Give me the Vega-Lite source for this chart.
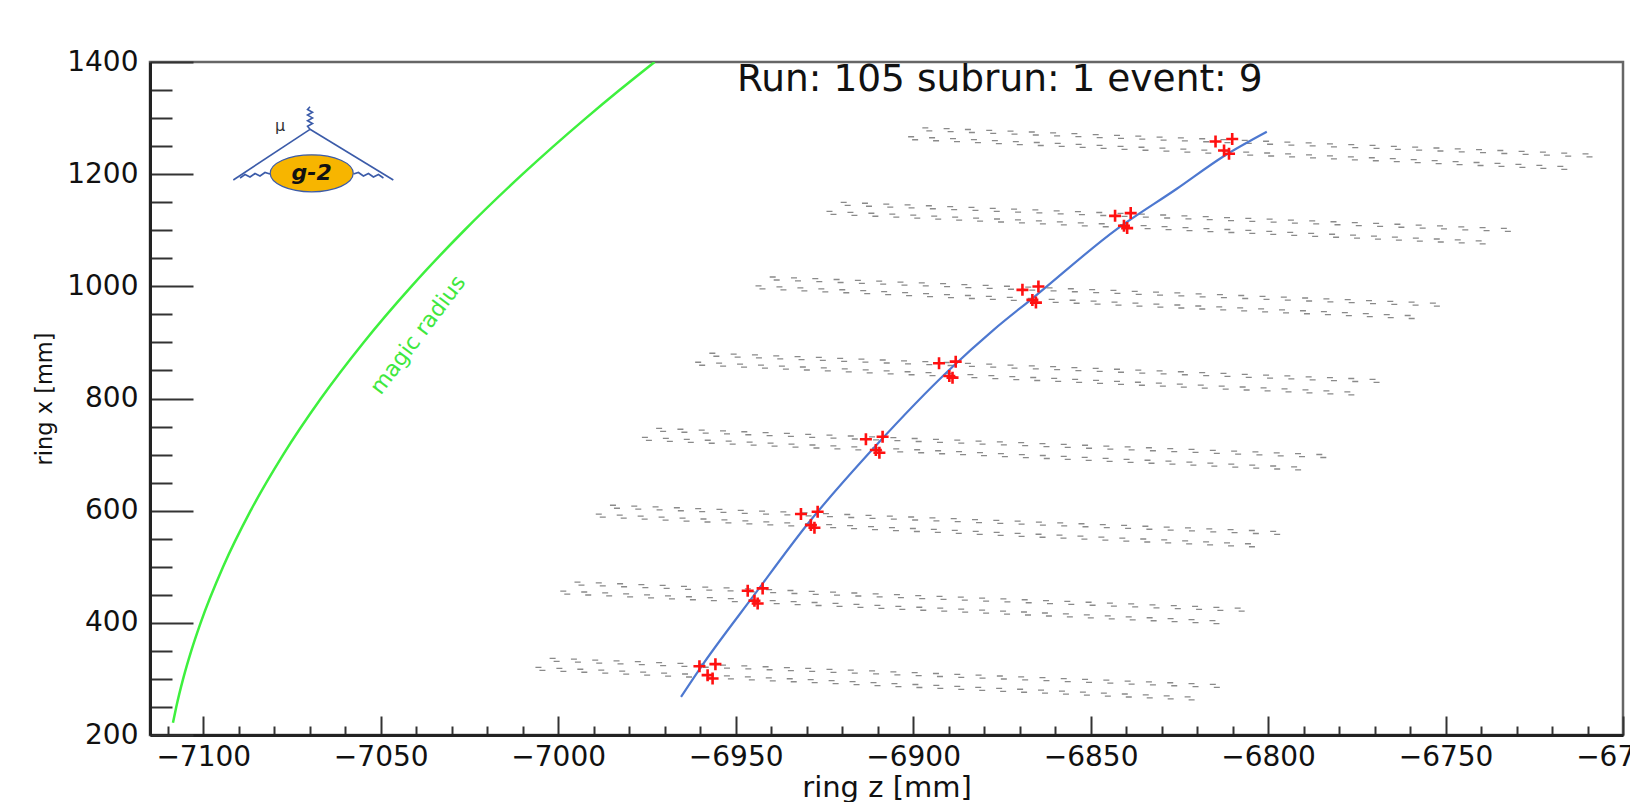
{
"$schema":"https://vega.github.io/schema/vega-lite/v6.json",
"width":1473,"height":673,
"autosize":{"type":"none"},
"padding":{"left":150,"top":62,"right":7,"bottom":67},
"background":"white",
"config":{"view":{"stroke":"#666666","strokeWidth":2.5},"font":"DejaVu Sans"},
"datasets":{
"straws":[
{"s":1,"r":"A","z":[-7001,-6995,-6989,-6983,-6977,-6971,-6965,-6959,-6953,-6947,-6941,-6935,-6929,-6923,-6917,-6911,-6905,-6899,-6893,-6887,-6881,-6875,-6869,-6863,-6857,-6851,-6845,-6839,-6833,-6827,-6821,-6815],"x":[334,332.5,331,329.5,328,326.5,325,323.5,322,320.5,319,317.5,316,314.5,313,311.5,310,308.5,307,305.5,304,302.5,301,299.5,298,296.5,295,293.5,292,290.5,289,287.5]},
{"s":1,"r":"B","z":[-7005,-6999.1,-6993.2,-6987.3,-6981.4,-6975.5,-6969.6,-6963.7,-6957.8,-6951.9,-6946,-6940.1,-6934.2,-6928.3,-6922.4,-6916.5,-6910.6,-6904.7,-6898.8,-6892.9,-6887,-6881.1,-6875.2,-6869.3,-6863.4,-6857.5,-6851.6,-6845.7,-6839.8,-6833.9,-6828,-6822.1],"x":[318,316.3,314.6,312.9,311.2,309.5,307.8,306.1,304.4,302.7,301,299.3,297.6,295.9,294.2,292.5,290.8,289.1,287.4,285.7,284,282.3,280.6,278.9,277.2,275.5,273.8,272.1,270.4,268.7,267,265.3]},
{"s":2,"r":"A","z":[-6994,-6988,-6982,-6976,-6970,-6964,-6958,-6952,-6946,-6940,-6934,-6928,-6922,-6916,-6910,-6904,-6898,-6892,-6886,-6880,-6874,-6868,-6862,-6856,-6850,-6844,-6838,-6832,-6826,-6820,-6814,-6808],"x":[470,468.5,467,465.5,464,462.5,461,459.5,458,456.5,455,453.5,452,450.5,449,447.5,446,444.5,443,441.5,440,438.5,437,435.5,434,432.5,431,429.5,428,426.5,425,423.5]},
{"s":2,"r":"B","z":[-6998,-6992.1,-6986.2,-6980.3,-6974.4,-6968.5,-6962.6,-6956.7,-6950.8,-6944.9,-6939,-6933.1,-6927.2,-6921.3,-6915.4,-6909.5,-6903.6,-6897.7,-6891.8,-6885.9,-6880,-6874.1,-6868.2,-6862.3,-6856.4,-6850.5,-6844.6,-6838.7,-6832.8,-6826.9,-6821,-6815.1],"x":[454,452.3,450.6,448.9,447.2,445.5,443.8,442.1,440.4,438.7,437,435.3,433.6,431.9,430.2,428.5,426.8,425.1,423.4,421.7,420,418.3,416.6,414.9,413.2,411.5,409.8,408.1,406.4,404.7,403,401.3]},
{"s":3,"r":"A","z":[-6984,-6978,-6972,-6966,-6960,-6954,-6948,-6942,-6936,-6930,-6924,-6918,-6912,-6906,-6900,-6894,-6888,-6882,-6876,-6870,-6864,-6858,-6852,-6846,-6840,-6834,-6828,-6822,-6816,-6810,-6804,-6798],"x":[607,605.5,604,602.5,601,599.5,598,596.5,595,593.5,592,590.5,589,587.5,586,584.5,583,581.5,580,578.5,577,575.5,574,572.5,571,569.5,568,566.5,565,563.5,562,560.5]},
{"s":3,"r":"B","z":[-6988,-6982.1,-6976.2,-6970.3,-6964.4,-6958.5,-6952.6,-6946.7,-6940.8,-6934.9,-6929,-6923.1,-6917.2,-6911.3,-6905.4,-6899.5,-6893.6,-6887.7,-6881.8,-6875.9,-6870,-6864.1,-6858.2,-6852.3,-6846.4,-6840.5,-6834.6,-6828.7,-6822.8,-6816.9,-6811,-6805.1],"x":[591,589.3,587.6,585.9,584.2,582.5,580.8,579.1,577.4,575.7,574,572.3,570.6,568.9,567.2,565.5,563.8,562.1,560.4,558.7,557,555.3,553.6,551.9,550.2,548.5,546.8,545.1,543.4,541.7,540,538.3]},
{"s":4,"r":"A","z":[-6971,-6965,-6959,-6953,-6947,-6941,-6935,-6929,-6923,-6917,-6911,-6905,-6899,-6893,-6887,-6881,-6875,-6869,-6863,-6857,-6851,-6845,-6839,-6833,-6827,-6821,-6815,-6809,-6803,-6797,-6791,-6785],"x":[744,742.5,741,739.5,738,736.5,735,733.5,732,730.5,729,727.5,726,724.5,723,721.5,720,718.5,717,715.5,714,712.5,711,709.5,708,706.5,705,703.5,702,700.5,699,697.5]},
{"s":4,"r":"B","z":[-6975,-6969.1,-6963.2,-6957.3,-6951.4,-6945.5,-6939.6,-6933.7,-6927.8,-6921.9,-6916,-6910.1,-6904.2,-6898.3,-6892.4,-6886.5,-6880.6,-6874.7,-6868.8,-6862.9,-6857,-6851.1,-6845.2,-6839.3,-6833.4,-6827.5,-6821.6,-6815.7,-6809.8,-6803.9,-6798,-6792.1],"x":[728,726.3,724.6,722.9,721.2,719.5,717.8,716.1,714.4,712.7,711,709.3,707.6,705.9,704.2,702.5,700.8,699.1,697.4,695.7,694,692.3,690.6,688.9,687.2,685.5,683.8,682.1,680.4,678.7,677,675.3]},
{"s":5,"r":"A","z":[-6956,-6950,-6944,-6938,-6932,-6926,-6920,-6914,-6908,-6902,-6896,-6890,-6884,-6878,-6872,-6866,-6860,-6854,-6848,-6842,-6836,-6830,-6824,-6818,-6812,-6806,-6800,-6794,-6788,-6782,-6776,-6770],"x":[878,876.5,875,873.5,872,870.5,869,867.5,866,864.5,863,861.5,860,858.5,857,855.5,854,852.5,851,849.5,848,846.5,845,843.5,842,840.5,839,837.5,836,834.5,833,831.5]},
{"s":5,"r":"B","z":[-6960,-6954.1,-6948.2,-6942.3,-6936.4,-6930.5,-6924.6,-6918.7,-6912.8,-6906.9,-6901,-6895.1,-6889.2,-6883.3,-6877.4,-6871.5,-6865.6,-6859.7,-6853.8,-6847.9,-6842,-6836.1,-6830.2,-6824.3,-6818.4,-6812.5,-6806.6,-6800.7,-6794.8,-6788.9,-6783,-6777.1],"x":[862,860.3,858.6,856.9,855.2,853.5,851.8,850.1,848.4,846.7,845,843.3,841.6,839.9,838.2,836.5,834.8,833.1,831.4,829.7,828,826.3,824.6,822.9,821.2,819.5,817.8,816.1,814.4,812.7,811,809.3]},
{"s":6,"r":"A","z":[-6939,-6933,-6927,-6921,-6915,-6909,-6903,-6897,-6891,-6885,-6879,-6873,-6867,-6861,-6855,-6849,-6843,-6837,-6831,-6825,-6819,-6813,-6807,-6801,-6795,-6789,-6783,-6777,-6771,-6765,-6759,-6753],"x":[1014,1012.5,1011,1009.5,1008,1006.5,1005,1003.5,1002,1000.5,999,997.5,996,994.5,993,991.5,990,988.5,987,985.5,984,982.5,981,979.5,978,976.5,975,973.5,972,970.5,969,967.5]},
{"s":6,"r":"B","z":[-6943,-6937.1,-6931.2,-6925.3,-6919.4,-6913.5,-6907.6,-6901.7,-6895.8,-6889.9,-6884,-6878.1,-6872.2,-6866.3,-6860.4,-6854.5,-6848.6,-6842.7,-6836.8,-6830.9,-6825,-6819.1,-6813.2,-6807.3,-6801.4,-6795.5,-6789.6,-6783.7,-6777.8,-6771.9,-6766,-6760.1],"x":[998,996.3,994.6,992.9,991.2,989.5,987.8,986.1,984.4,982.7,981,979.3,977.6,975.9,974.2,972.5,970.8,969.1,967.4,965.7,964,962.3,960.6,958.9,957.2,955.5,953.8,952.1,950.4,948.7,947,945.3]},
{"s":7,"r":"A","z":[-6919,-6913,-6907,-6901,-6895,-6889,-6883,-6877,-6871,-6865,-6859,-6853,-6847,-6841,-6835,-6829,-6823,-6817,-6811,-6805,-6799,-6793,-6787,-6781,-6775,-6769,-6763,-6757,-6751,-6745,-6739,-6733],"x":[1147,1145.5,1144,1142.5,1141,1139.5,1138,1136.5,1135,1133.5,1132,1130.5,1129,1127.5,1126,1124.5,1123,1121.5,1120,1118.5,1117,1115.5,1114,1112.5,1111,1109.5,1108,1106.5,1105,1103.5,1102,1100.5]},
{"s":7,"r":"B","z":[-6923,-6917.1,-6911.2,-6905.3,-6899.4,-6893.5,-6887.6,-6881.7,-6875.8,-6869.9,-6864,-6858.1,-6852.2,-6846.3,-6840.4,-6834.5,-6828.6,-6822.7,-6816.8,-6810.9,-6805,-6799.1,-6793.2,-6787.3,-6781.4,-6775.5,-6769.6,-6763.7,-6757.8,-6751.9,-6746,-6740.1],"x":[1131,1129.3,1127.6,1125.9,1124.2,1122.5,1120.8,1119.1,1117.4,1115.7,1114,1112.3,1110.6,1108.9,1107.2,1105.5,1103.8,1102.1,1100.4,1098.7,1097,1095.3,1093.6,1091.9,1090.2,1088.5,1086.8,1085.1,1083.4,1081.7,1080,1078.3]},
{"s":8,"r":"A","z":[-6896,-6890,-6884,-6878,-6872,-6866,-6860,-6854,-6848,-6842,-6836,-6830,-6824,-6818,-6812,-6806,-6800,-6794,-6788,-6782,-6776,-6770,-6764,-6758,-6752,-6746,-6740,-6734,-6728,-6722,-6716,-6710],"x":[1280,1278.5,1277,1275.5,1274,1272.5,1271,1269.5,1268,1266.5,1265,1263.5,1262,1260.5,1259,1257.5,1256,1254.5,1253,1251.5,1250,1248.5,1247,1245.5,1244,1242.5,1241,1239.5,1238,1236.5,1235,1233.5]},
{"s":8,"r":"B","z":[-6900,-6894.1,-6888.2,-6882.3,-6876.4,-6870.5,-6864.6,-6858.7,-6852.8,-6846.9,-6841,-6835.1,-6829.2,-6823.3,-6817.4,-6811.5,-6805.6,-6799.7,-6793.8,-6787.9,-6782,-6776.1,-6770.2,-6764.3,-6758.4,-6752.5,-6746.6,-6740.7,-6734.8,-6728.9,-6723,-6717.1],"x":[1264,1262.3,1260.6,1258.9,1257.2,1255.5,1253.8,1252.1,1250.4,1248.7,1247,1245.3,1243.6,1241.9,1240.2,1238.5,1236.8,1235.1,1233.4,1231.7,1230,1228.3,1226.6,1224.9,1223.2,1221.5,1219.8,1218.1,1216.4,1214.7,1213,1211.3]}
],
"magic":[
{"z":-7108.53,"x":222},{"z":-7107.6,"x":250},{"z":-7105.67,"x":300},{"z":-7103.38,"x":350},{"z":-7100.74,"x":400},{"z":-7094.4,"x":500},{"z":-7086.65,"x":600},{"z":-7077.47,"x":700},{"z":-7066.86,"x":800},{"z":-7054.82,"x":900},{"z":-7041.35,"x":1000},{"z":-7026.42,"x":1100},{"z":-7010.03,"x":1200},{"z":-6992.18,"x":1300},{"z":-6982.7,"x":1350},{"z":-6972.84,"x":1400}
],
"track":[
{"z":-6965.4,"x":268},{"z":-6960,"x":319},{"z":-6944.5,"x":452},{"z":-6930,"x":574},{"z":-6910.2,"x":718},{"z":-6890,"x":850},{"z":-6877.4,"x":922},{"z":-6866.1,"x":980},{"z":-6842.6,"x":1102},{"z":-6825.7,"x":1174},{"z":-6812.5,"x":1232},{"z":-6800.35,"x":1275.7}
],
"hits":[
{"z":-6960.2,"x":322.7},{"z":-6955.7,"x":326.3},{"z":-6957.9,"x":306.7},{"z":-6956.5,"x":300.8},
{"z":-6946.6,"x":457.1},{"z":-6942.4,"x":461.4},{"z":-6944.7,"x":439.3},{"z":-6943.8,"x":434.6},
{"z":-6931.6,"x":594},{"z":-6926.9,"x":598.1},{"z":-6928.8,"x":574.3},{"z":-6927.8,"x":569.5},
{"z":-6913.3,"x":727.3},{"z":-6908.6,"x":731.9},{"z":-6910.5,"x":708.2},{"z":-6909.5,"x":703.4},
{"z":-6892.7,"x":862.9},{"z":-6888,"x":865.7},{"z":-6889.8,"x":840.2},{"z":-6888.9,"x":837.2},
{"z":-6869.2,"x":993.7},{"z":-6864.7,"x":999.6},{"z":-6866.4,"x":975.8},{"z":-6865.4,"x":971},
{"z":-6843.1,"x":1125.7},{"z":-6838.7,"x":1130.6},{"z":-6840.6,"x":1107.9},{"z":-6839.7,"x":1103.8},
{"z":-6814.8,"x":1258.3},{"z":-6810.1,"x":1262.6},{"z":-6812.4,"x":1242.3},{"z":-6811,"x":1236.4}
],
"logo":[
{"g":"L","o":0,"z":-7069.92,"x":1280},{"g":"L","o":1,"z":-7091.53,"x":1189.6},
{"g":"R","o":0,"z":-7069.92,"x":1280},{"g":"R","o":1,"z":-7046.45,"x":1189.6},
{"g":"P","o":0,"z":-7069.92,"x":1280},{"g":"P","o":1,"z":-7070.62,"x":1285.3},{"g":"P","o":2,"z":-7069.21,"x":1290.3},{"g":"P","o":3,"z":-7070.62,"x":1295.3},{"g":"P","o":4,"z":-7069.21,"x":1300.3},{"g":"P","o":5,"z":-7070.62,"x":1305.3},{"g":"P","o":6,"z":-7069.21,"x":1310.3},{"g":"P","o":7,"z":-7070.62,"x":1315.3},{"g":"P","o":8,"z":-7069.92,"x":1320.3},
{"g":"WL","o":0,"z":-7089.64,"x":1193.2},{"g":"WL","o":1,"z":-7088.23,"x":1199.4},{"g":"WL","o":2,"z":-7086.82,"x":1194.9},{"g":"WL","o":3,"z":-7085.41,"x":1201.2},{"g":"WL","o":4,"z":-7084.01,"x":1196.7},{"g":"WL","o":5,"z":-7082.6,"x":1203},{"g":"WL","o":6,"z":-7081.19,"x":1200.3},
{"g":"WR","o":0,"z":-7049.23,"x":1193.2},{"g":"WR","o":1,"z":-7050.64,"x":1199.4},{"g":"WR","o":2,"z":-7052.05,"x":1194.9},{"g":"WR","o":3,"z":-7053.46,"x":1201.2},{"g":"WR","o":4,"z":-7054.87,"x":1196.7},{"g":"WR","o":5,"z":-7056.28,"x":1203},{"g":"WR","o":6,"z":-7057.69,"x":1200.3}
]
},
"encoding":{
"x":{"field":"z","type":"quantitative","scale":{"domain":[-7115,-6700],"nice":false,"zero":false},
"axis":{"values":[-7110,-7100,-7090,-7080,-7070,-7060,-7050,-7040,-7030,-7020,-7010,-7000,-6990,-6980,-6970,-6960,-6950,-6940,-6930,-6920,-6910,-6900,-6890,-6880,-6870,-6860,-6850,-6840,-6830,-6820,-6810,-6800,-6790,-6780,-6770,-6760,-6750,-6740,-6730,-6720,-6710,-6700],
"format":"d","labelExpr":"datum.value % 50 === 0 ? datum.label : ''",
"labelFont":"DejaVu Sans","labelFontSize":28,"labelColor":"#111111","labelFlush":false,"labelOverlap":false,"labelBound":false,
"tickSize":{"condition":{"test":"datum.value % 50 === 0","value":-19},"value":-9},
"tickWidth":2,"tickColor":"#333333","labelPadding":27,"domainColor":"#222222","domainWidth":3,"grid":false,
"title":"ring z [mm]","titleFont":"DejaVu Sans","titleFontSize":29,"titleFontWeight":"normal","titleColor":"#111111","titleBaseline":"alphabetic","titleY":61}},
"y":{"field":"x","type":"quantitative","scale":{"domain":[200,1400],"nice":false,"zero":false},
"axis":{"values":[200,250,300,350,400,450,500,550,600,650,700,750,800,850,900,950,1000,1050,1100,1150,1200,1250,1300,1350,1400],
"format":"d","labelExpr":"datum.value % 200 === 0 ? datum.label : ''",
"labelFont":"DejaVu Sans","labelFontSize":28,"labelColor":"#111111","labelFlush":false,"labelOverlap":false,"labelBound":false,
"tickSize":{"condition":{"test":"datum.value % 200 === 0","value":-43},"value":-22},
"tickWidth":2,"tickColor":"#333333","labelPadding":55,"domainColor":"#222222","domainWidth":3,"grid":false,
"title":"ring x [mm]","titleFont":"DejaVu Sans","titleFontSize":22.5,"titleFontWeight":"normal","titleColor":"#111111","titleX":-106,"titleY":336.5,"titleAngle":-90,"titleAlign":"center","titleBaseline":"middle"}}
},
"layer":[
{"data":{"name":"straws"},"transform":[{"flatten":["z","x"]}],"mark":{"type":"point","shape":"M-1,-0.3L0.2,-0.3M-0.2,0.3L1,0.3","size":100,"filled":false,"stroke":"#6e6e6e","strokeWidth":1.3,"opacity":0.8}},
{"data":{"name":"magic"},"mark":{"type":"line","color":"#3ef03e","strokeWidth":2.5,"interpolate":"monotone","clip":true}},
{"data":{"name":"track"},"mark":{"type":"line","color":"#4d78d0","strokeWidth":2.2,"interpolate":"monotone"}},
{"data":{"name":"hits"},"mark":{"type":"point","shape":"M-1,0L1,0M0,-1L0,1","size":144,"filled":false,"stroke":"#ff1010","strokeWidth":2.6,"opacity":1}},
{"data":{"name":"logo"},"mark":{"type":"line","color":"#3b5ba9","strokeWidth":1.6},"encoding":{"detail":{"field":"g"},"order":{"field":"o","type":"quantitative"}}},
{"data":{"values":[{"z":-7069.44,"x":1201.5}]},"mark":{"type":"point","shape":"M-1,0A1,0.446,0,1,1,1,0A1,0.446,0,1,1,-1,0Z","size":6889,"filled":true,"fill":"#f7b500","stroke":"#3b5ba9","strokeWidth":1.2,"opacity":1}},
{"data":{"values":[{"z":-7069.44,"x":1201.5,"t":"g-2"}]},"mark":{"type":"text","font":"DejaVu Sans","fontSize":22,"fontWeight":"bold","fontStyle":"italic","color":"#111111","align":"center","baseline":"middle"},"encoding":{"text":{"field":"t"}}},
{"data":{"values":[{"z":-7078.37,"x":1285.9,"t":"μ"}]},"mark":{"type":"text","font":"DejaVu Sans","fontSize":16,"color":"#333333","align":"center","baseline":"middle"},"encoding":{"text":{"field":"t"}}},
{"data":{"values":[{"z":-7039.5,"x":913.4,"t":"magic radius"}]},"mark":{"type":"text","font":"DejaVu Sans","fontSize":22,"angle":-53,"color":"#3ee83e","align":"center","baseline":"middle"},"encoding":{"text":{"field":"t"}}},
{"data":{"values":[{"z":-6875.6,"x":1347.4,"t":"Run: 105 subrun: 1 event: 9"}]},"mark":{"type":"text","font":"DejaVu Sans","fontSize":37.5,"color":"#111111","align":"center","baseline":"alphabetic"},"encoding":{"text":{"field":"t"}}}
]
}
